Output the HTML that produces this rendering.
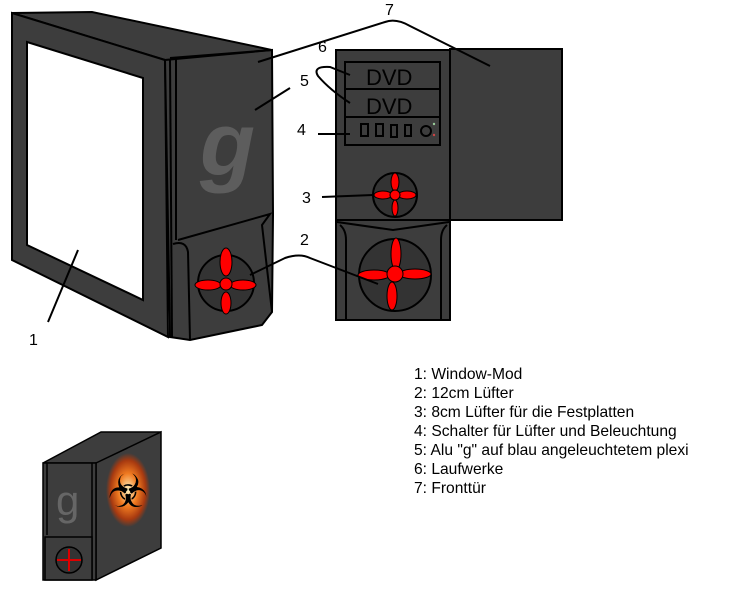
<!DOCTYPE html>
<html><head><style>
body{margin:0;background:#fff;width:743px;height:595px;overflow:hidden}
svg{position:absolute;left:0;top:0}
text{font-family:"Liberation Sans",sans-serif}
</style></head><body>
<svg width="743" height="595" viewBox="0 0 743 595">
<defs>
<radialGradient id="bio" cx="50%" cy="50%" r="50%"><stop offset="0" stop-color="#fff3c0"/><stop offset="0.45" stop-color="#f07a20"/><stop offset="0.8" stop-color="#a83a10"/><stop offset="1" stop-color="#3d3d3d"/></radialGradient>
</defs>
<g stroke="#000" stroke-width="2" fill="#3d3d3d">
<polygon points="12,13 92,12 272,50 272,57 165,60 12,13"/>
<polygon points="12,13 165,60 168,337 12,260"/>
<polygon points="27,42 143,78 143,300 27,245" fill="#fff"/>
<polygon points="165,60 272,50 273,215 272,312 262,325 190,340 170,337"/>
<polyline points="170,60 172,337" fill="none"/>
<polyline points="176,58 176,240" fill="none"/>
<polyline points="170,58 272,50" fill="none"/>
<polyline points="178,240 270,214 262,225 272,312" fill="none"/>
<path d="M173,244 Q186,240 188,252 L190,340" fill="none"/>
<circle cx="226" cy="283" r="28" fill="#333"/>
</g>
<text x="200" y="175" font-size="90" font-style="italic" font-weight="bold" fill="#5d5d5d">g</text>
<g fill="#f00" stroke="#000" stroke-width="1">
<ellipse cx="226" cy="262" rx="6" ry="14"/><ellipse cx="226" cy="303" rx="5" ry="11"/>
<ellipse cx="208" cy="285" rx="13" ry="5"/><ellipse cx="243" cy="285" rx="13" ry="5"/>
<circle cx="226" cy="284" r="6"/>
</g>
<g stroke="#000" stroke-width="2" fill="#3d3d3d">
<rect x="336" y="50" width="114" height="170"/>
<rect x="450" y="49" width="112" height="171"/>
<rect x="336" y="220" width="114" height="100"/>
<path d="M337,222 L393,230 L449,222" fill="none"/>
<path d="M340,225 Q346,230 346,240 L346,320 M447,225 Q441,230 441,240 L441,320" fill="none"/>
<rect x="345" y="62" width="95" height="83"/>
<line x1="345" y1="89" x2="440" y2="89"/><line x1="345" y1="117" x2="440" y2="117"/>
<rect x="361" y="124" width="7" height="12" fill="none"/><rect x="376" y="124" width="7" height="12" fill="none"/>
<rect x="391" y="125" width="6" height="12" fill="none"/><rect x="405" y="125" width="6" height="11" fill="none"/>
<circle cx="426" cy="131" r="5" fill="none"/>
<circle cx="395" cy="195" r="22" fill="#333"/>
<circle cx="395" cy="275" r="36" fill="#333"/>
</g>
<circle cx="434" cy="124" r="1.2" fill="#9c9"/><circle cx="434" cy="135" r="1.2" fill="#c44"/>
<text x="366" y="85" font-size="22" fill="#000">DVD</text>
<text x="366" y="114" font-size="22" fill="#000">DVD</text>
<g fill="#f00" stroke="#000" stroke-width="1">
<ellipse cx="395" cy="182" rx="4" ry="9"/><ellipse cx="395" cy="208" rx="3" ry="8"/>
<ellipse cx="383" cy="195" rx="9" ry="4"/><ellipse cx="407" cy="195" rx="9" ry="4"/>
<circle cx="395" cy="195" r="5"/>
<ellipse cx="396" cy="254" rx="5" ry="16"/><ellipse cx="392" cy="296" rx="5" ry="14"/>
<ellipse cx="374" cy="275" rx="16" ry="5"/><ellipse cx="415" cy="274" rx="16" ry="5"/>
<circle cx="395" cy="274" r="8"/>
</g>
<g stroke="#000" stroke-width="2" fill="none">
<path d="M258,62 L385,22 Q396,18 410,26 L490,66"/>
<path d="M350,75 L330,67 Q312,66 318,76 Q330,90 350,103"/>
<path d="M255,110 L290,88"/>
<path d="M318,134 L350,134"/>
<path d="M322,197 L373,195"/>
<path d="M250,275 L285,258 Q300,253 310,258 L378,284"/>
<path d="M48,322 L78,250"/>
</g>
<g font-size="16" fill="#000">
<text x="385" y="15">7</text><text x="318" y="52">6</text><text x="300" y="86">5</text>
<text x="297" y="135">4</text><text x="302" y="203">3</text><text x="300" y="245">2</text>
<text x="29" y="345">1</text>
</g>
<g font-size="15.6" fill="#000">
<text x="414" y="379">1: Window-Mod</text>
<text x="414" y="398">2: 12cm Lüfter</text>
<text x="414" y="417">3: 8cm Lüfter für die Festplatten</text>
<text x="414" y="436">4: Schalter für Lüfter und Beleuchtung</text>
<text x="414" y="455">5: Alu "g" auf blau angeleuchtetem plexi</text>
<text x="414" y="474">6: Laufwerke</text>
<text x="414" y="493">7: Fronttür</text>
</g>
<g stroke="#000" stroke-width="1.5" fill="#3d3d3d">
<polygon points="43,463 101,432 161,432 98,463"/>
<polygon points="96,463 161,432 161,548 96,580"/>
<rect x="43" y="463" width="53" height="117"/>
<line x1="47" y1="463" x2="47" y2="535"/><line x1="92" y1="463" x2="92" y2="580"/>
<rect x="45" y="537" width="47" height="43"/>
<circle cx="69" cy="560" r="13" fill="#333"/>
</g>
<ellipse cx="128" cy="490" rx="22" ry="37" fill="url(#bio)"/>
<text x="128" y="507" font-size="46" text-anchor="middle" fill="#000">☣</text>
<text x="56" y="515" font-size="42" fill="#666">g</text>
<g stroke="#d00" stroke-width="2"><line x1="57" y1="560" x2="81" y2="560"/><line x1="69" y1="549" x2="69" y2="571"/></g>
</svg>
</body></html>
